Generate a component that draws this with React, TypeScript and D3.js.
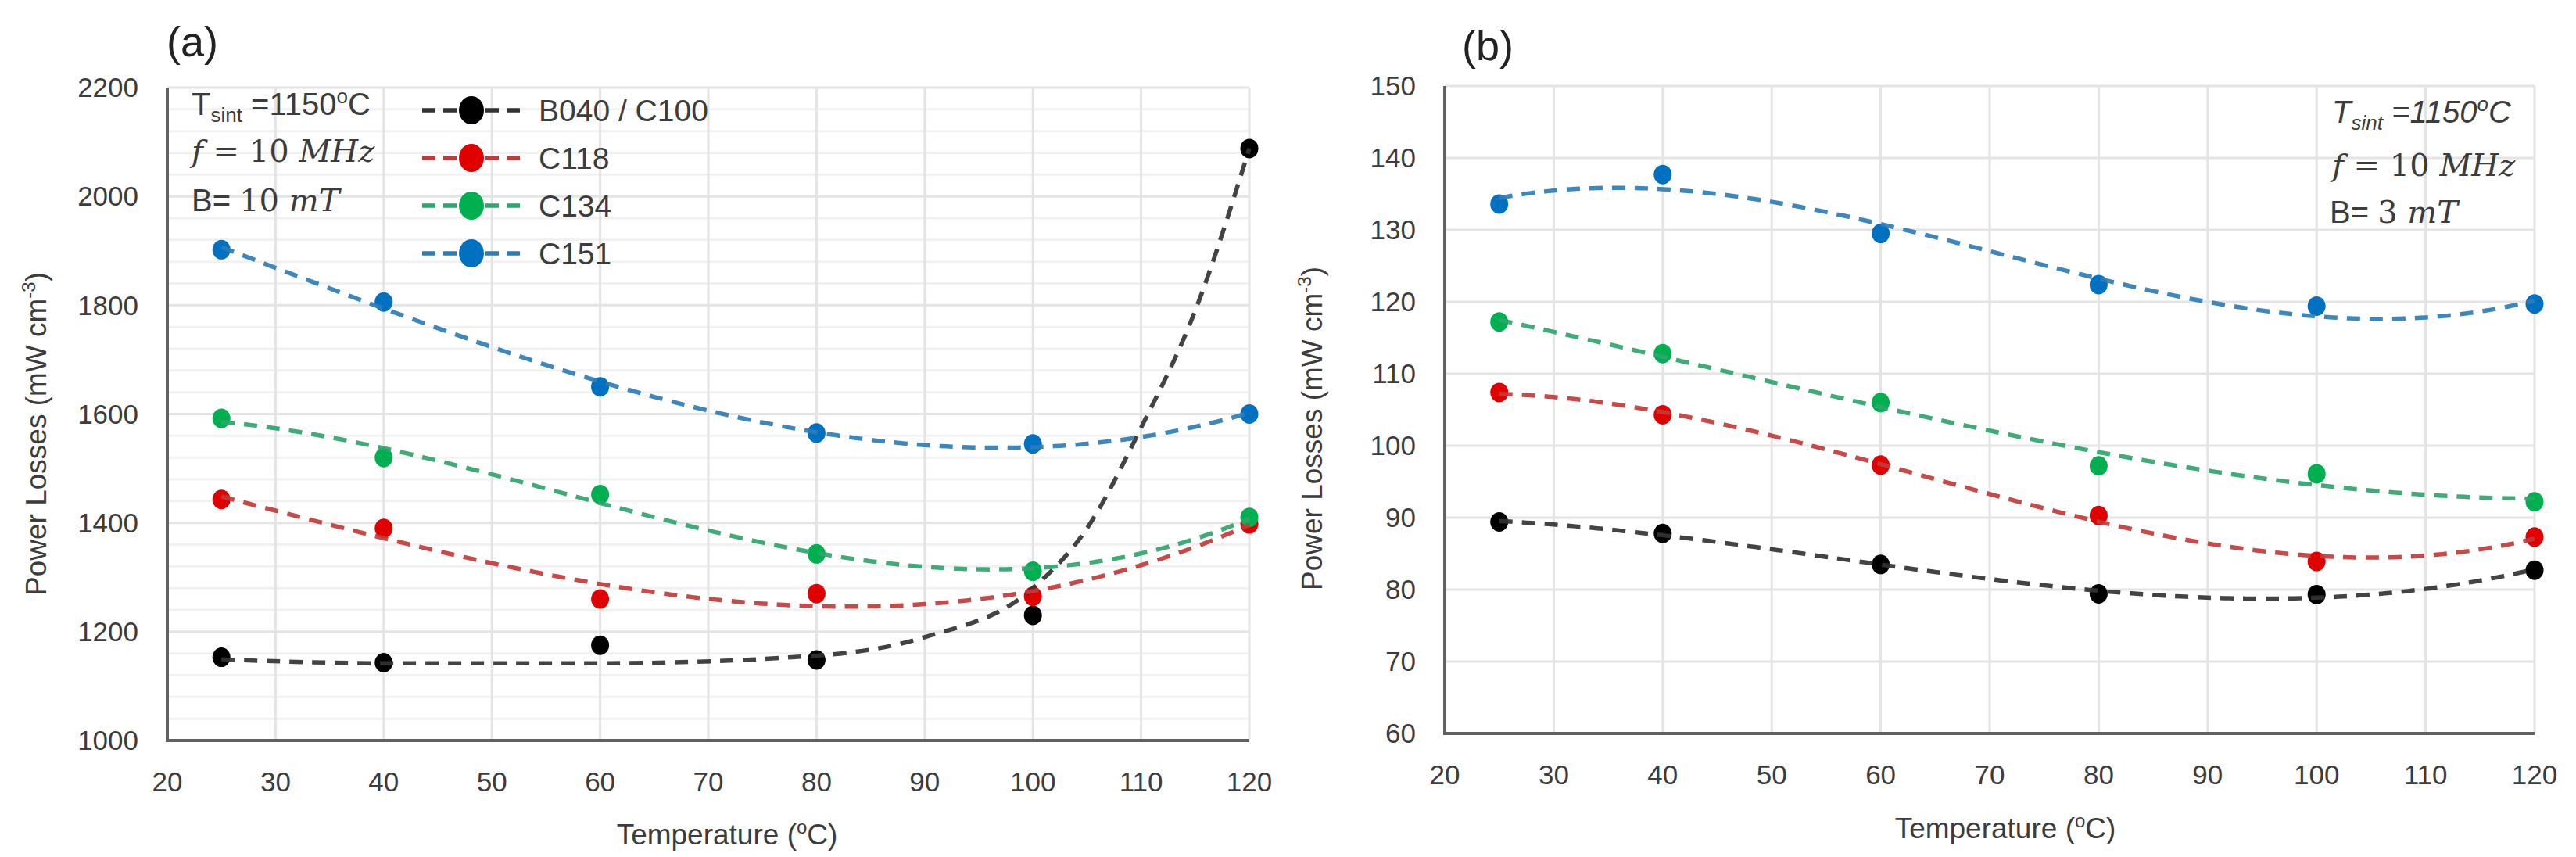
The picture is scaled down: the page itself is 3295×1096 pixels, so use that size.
import React from 'react';
import * as d3 from 'd3';

// temperatures at which losses were measured (°C)
const temps = [25, 40, 60, 80, 100, 120];
const tempTicks = [20, 30, 40, 50, 60, 70, 80, 90, 100, 110, 120];

const seriesNames = ['B040 / C100', 'C118', 'C134', 'C151'];
const markerColors = ['#000000', '#e00000', '#00b050', '#0070c0'];
const trendColors = ['#333333', '#c23a38', '#2fa56c', '#2d7db6'];

// panel (a): B = 10 mT
const lossesA_B040 = [1153, 1143, 1175, 1148, 1230, 2088];
const lossesA_C118 = [1443, 1390, 1260, 1270, 1265, 1398];
const lossesA_C134 = [1592, 1520, 1452, 1343, 1311, 1410];
const lossesA_C151 = [1902, 1806, 1650, 1565, 1545, 1600];
const ticksA = [1000, 1200, 1400, 1600, 1800, 2000, 2200];
const trendOrderA = [0, 3, 3, 3];
// the B040 trend curve is not a plain polynomial
const trendTempsA_B040 = [25, 40, 60, 80, 90, 100, 105, 110, 115, 120];
const trendA_B040 = [1149, 1142, 1142, 1156, 1190, 1280, 1390, 1575, 1790, 2088];

// panel (b): B = 3 mT
const lossesB_B040 = [89.4, 87.8, 83.5, 79.4, 79.3, 82.7];
const lossesB_C118 = [107.4, 104.3, 97.3, 90.3, 83.9, 87.3];
const lossesB_C134 = [117.2, 112.8, 106.0, 97.2, 96.1, 92.2];
const lossesB_C151 = [133.6, 137.7, 129.5, 122.4, 119.4, 119.7];
const ticksB = [60, 70, 80, 90, 100, 110, 120, 130, 140, 150];
const trendOrderB = [3, 3, 3, 3];

const SANS = "'Liberation Sans', Arial, sans-serif";
const SERIF = "'DejaVu Serif', 'Liberation Serif', serif";
const TEXT = '#3c3c3c';

// least squares polynomial, like a spreadsheet trendline
function polyfit(xs: number[], ys: number[], order: number) {
  const n = order + 1;
  const t = xs.map(x => (x - 70) / 50);
  const M = Array.from({ length: n }, () => new Array(n + 1).fill(0));
  for (let k = 0; k < xs.length; k++) {
    for (let i = 0; i < n; i++) {
      for (let j = 0; j < n; j++) M[i][j] += Math.pow(t[k], i + j);
      M[i][n] += Math.pow(t[k], i) * ys[k];
    }
  }
  for (let c = 0; c < n; c++) {
    let p = c;
    for (let r = c + 1; r < n; r++) if (Math.abs(M[r][c]) > Math.abs(M[p][c])) p = r;
    [M[c], M[p]] = [M[p], M[c]];
    for (let r = 0; r < n; r++) {
      if (r === c) continue;
      const f = M[r][c] / M[c][c];
      for (let j = c; j <= n; j++) M[r][j] -= f * M[c][j];
    }
  }
  const coef = M.map((row, i) => row[n] / row[i]);
  return (x: number) => {
    const tt = (x - 70) / 50;
    return coef.reduce((s, a, i) => s + a * Math.pow(tt, i), 0);
  };
}

interface PanelProps {
  x: d3.ScaleLinear<number, number>;
  y: d3.ScaleLinear<number, number>;
  yTicks: number[];
  minorTicks: number[];
  series: number[][];
  orders: number[];
  readTrends: (number[][] | null)[];
  titleX: number;
  titleY: number;
  yTitleX: number;
  yTitleY: number;
}

const Panel: React.FC<PanelProps> = ({ x, y, yTicks, minorTicks, series, orders, readTrends, titleX, titleY, yTitleX, yTitleY }) => {
  const [x0, x1] = x.range();
  const [y0, y1] = y.range();
  const sample = d3.range(temps[0], temps[temps.length - 1] + 0.01, 0.5);
  const line = d3.line<number[]>().x(d => x(d[0])).y(d => y(d[1]));
  const smooth = d3.line<number[]>().x(d => x(d[0])).y(d => y(d[1])).curve(d3.curveMonotoneX);
  return (
    <g>
      {minorTicks.map(v => (
        <line key={'m' + v} x1={x0} x2={x1} y1={y(v)} y2={y(v)} stroke="#f1f1f1" strokeWidth={3} />
      ))}
      {yTicks.map(v => (
        <line key={'h' + v} x1={x0} x2={x1} y1={y(v)} y2={y(v)} stroke="#e4e4e4" strokeWidth={3} />
      ))}
      {tempTicks.map(v => (
        <line key={'v' + v} x1={x(v)} x2={x(v)} y1={y0} y2={y1} stroke="#e4e4e4" strokeWidth={3} />
      ))}
      <line x1={x0} x2={x0} y1={y0 + 2} y2={y1} stroke="#616161" strokeWidth={4} />
      <line x1={x0} x2={x1} y1={y0} y2={y0} stroke="#616161" strokeWidth={4} />
      {yTicks.map(v => (
        <text key={'yl' + v} x={x0 - 37} y={y(v)} dy="0.35em" textAnchor="end" fontFamily={SANS} fontSize={35} fill={TEXT}>
          {v}
        </text>
      ))}
      {tempTicks.map(v => (
        <text key={'xl' + v} x={x(v)} y={y0 + 65} textAnchor="middle" fontFamily={SANS} fontSize={35} fill={TEXT}>
          {v}
        </text>
      ))}
      <text x={titleX} y={titleY} textAnchor="middle" fontFamily={SANS} fontSize={37} fill={TEXT}>
        Temperature (<tspan fontSize={24} dy={-14}>o</tspan><tspan dy={14}>C)</tspan>
      </text>
      <text transform={`translate(${yTitleX},${yTitleY}) rotate(-90)`} textAnchor="middle" dy="0.35em" fontFamily={SANS} fontSize={37} fill={TEXT}>
        Power Losses (mW cm<tspan fontSize={24} dy={-14}>-3</tspan><tspan dy={14}>)</tspan>
      </text>
      {series.map((vals, si) => (
        <g key={'pts' + si}>
          {vals.map((v, i) => (
            <ellipse key={i} cx={x(temps[i])} cy={y(v)} rx={11.5} ry={12.5} fill={markerColors[si]} />
          ))}
        </g>
      ))}
      {series.map((vals, si) => {
        const read = readTrends[si];
        let d: string;
        if (read) {
          d = smooth(read) || '';
        } else {
          const fit = polyfit(temps, vals, orders[si]);
          d = line(sample.map(t => [t, fit(t)])) || '';
        }
        return (
          <path key={'tr' + si} d={d} fill="none" stroke={trendColors[si]} strokeWidth={5.5}
            strokeDasharray="17 12" opacity={0.92} />
        );
      })}
    </g>
  );
};

export default function App() {
  const xA = d3.scaleLinear().domain([20, 120]).range([214, 1598]);
  const yA = d3.scaleLinear().domain([1000, 2200]).range([947, 112]);
  const xB = d3.scaleLinear().domain([20, 120]).range([1848, 3242]);
  const yB = d3.scaleLinear().domain([60, 150]).range([938, 110]);
  const minorA = d3.range(1000, 2201, 40).filter(v => v % 200 !== 0);
  const blackTrendA = trendTempsA_B040.map((t, i) => [t, trendA_B040[i]]);

  const legendRows = [141, 202, 263, 324];

  return (
    <svg width={3295} height={1096} style={{ position: 'absolute', left: 0, top: 0, background: '#fff' }}>
      <rect width={3295} height={1096} fill="#fff" />
      <Panel x={xA} y={yA} yTicks={ticksA} minorTicks={minorA}
        series={[lossesA_B040, lossesA_C118, lossesA_C134, lossesA_C151]} orders={trendOrderA}
        readTrends={[blackTrendA, null, null, null]}
        titleX={930} titleY={1080} yTitleX={46} yTitleY={555} />
      <Panel x={xB} y={yB} yTicks={ticksB} minorTicks={[]}
        series={[lossesB_B040, lossesB_C118, lossesB_C134, lossesB_C151]} orders={trendOrderB}
        readTrends={[null, null, null, null]}
        titleX={2565} titleY={1072} yTitleX={1678} yTitleY={548} />

      <text x={213} y={72} fontFamily={SANS} fontSize={54} fill="#222">(a)</text>
      <text x={1870} y={77} fontFamily={SANS} fontSize={54} fill="#222">(b)</text>

      {/* legend, panel (a) */}
      {seriesNames.map((name, i) => (
        <g key={name}>
          <line x1={540} x2={671} y1={legendRows[i]} y2={legendRows[i]} stroke={trendColors[i]} strokeWidth={5.5} strokeDasharray="17 10" />
          <ellipse cx={603} cy={legendRows[i]} rx={16} ry={18} fill={markerColors[i]} />
          <text x={689} y={legendRows[i]} dy="0.36em" fontFamily={SANS} fontSize={39} fill={TEXT}>{name}</text>
        </g>
      ))}

      {/* conditions, panel (a) */}
      <text x={245} y={147} fontFamily={SANS} fontSize={40} fill={TEXT}>
        T<tspan fontSize={26} dy={9}>sint</tspan><tspan dy={-9}> =1150</tspan><tspan fontSize={26} dy={-15}>o</tspan><tspan dy={15}>C</tspan>
      </text>
      <text x={245} y={207} fontFamily={SERIF} fontSize={40} fill={TEXT}>
        <tspan fontStyle="italic">f</tspan> = 10 <tspan fontStyle="italic">MHz</tspan>
      </text>
      <text x={245} y={270} fontFamily={SANS} fontSize={40} fill={TEXT}>
        B= <tspan fontFamily={SERIF}>10 </tspan><tspan fontFamily={SERIF} fontStyle="italic">mT</tspan>
      </text>

      {/* conditions, panel (b) */}
      <text x={2983} y={157} fontFamily={SANS} fontStyle="italic" fontSize={40} fill={TEXT}>
        T<tspan fontSize={26} dy={9}>sint</tspan><tspan dy={-9}> =1150</tspan><tspan fontSize={26} dy={-15}>o</tspan><tspan dy={15}>C</tspan>
      </text>
      <text x={2983} y={225} fontFamily={SERIF} fontSize={40} fill={TEXT}>
        <tspan fontStyle="italic">f</tspan> = 10 <tspan fontStyle="italic">MHz</tspan>
      </text>
      <text x={2980} y={285} fontFamily={SANS} fontSize={40} fill={TEXT}>
        B= <tspan fontFamily={SERIF}>3 </tspan><tspan fontFamily={SERIF} fontStyle="italic">mT</tspan>
      </text>
    </svg>
  );
}
